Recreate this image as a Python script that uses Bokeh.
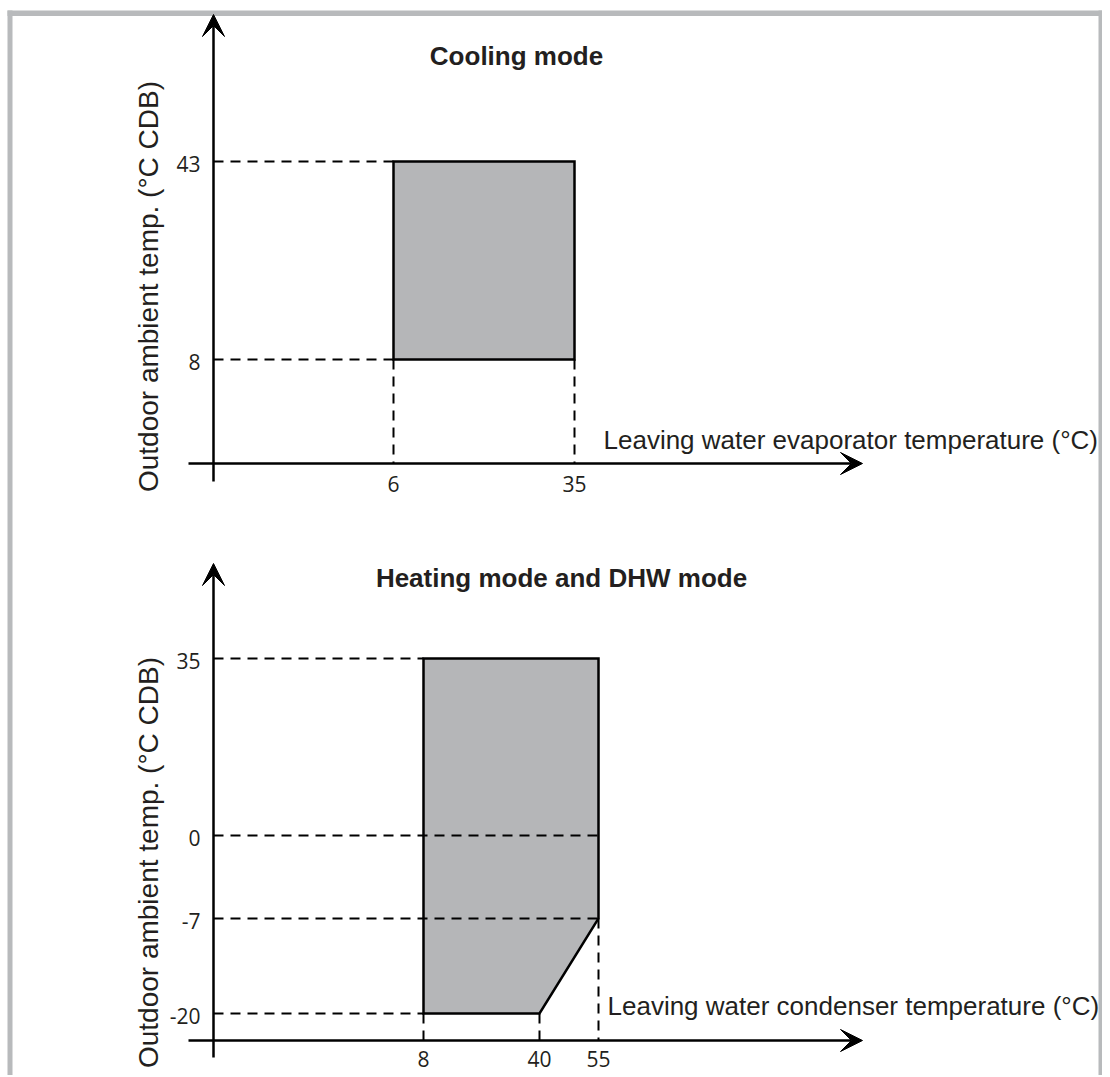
import numpy as np
from bokeh.plotting import figure
from bokeh.models import Range1d, Arrow, VeeHead
from bokeh.core.properties import value
from bokeh.embed import file_html
from bokeh.resources import INLINE

# ---------------- data ----------------
y_label = "Outdoor ambient temp. (°C CDB)"

cool_title = "Cooling mode"
cool_x_label = "Leaving water evaporator temperature (°C)"
cool_x_ticks = [6, 35]
cool_y_ticks = [8, 43]
cool_env_x = [6, 35, 35, 6]
cool_env_y = [8, 8, 43, 43]
# guides: (y value, x value reached) and (x value, y value reached)
cool_h_guides = [(43, 6), (8, 6)]
cool_v_guides = [(6, 8), (35, 8)]

heat_title = "Heating mode and DHW mode"
heat_x_label = "Leaving water condenser temperature (°C)"
heat_x_ticks = [8, 40, 55]
heat_y_ticks = [-20, -7, 0, 35]
heat_env_x = [8, 55, 55, 40, 8]
heat_env_y = [35, 35, -7, -20, -20]
heat_h_guides = [(35, 8), (0, 55), (-7, 55), (-20, 8)]
heat_v_guides = [(8, -20), (40, -20), (55, -7)]

# ---------------- schematic layout (page pixels) ----------------
W, H = 1102, 1075
TXT = "#231f20"
GRAY = "#b5b6b8"
BORDER = "#b8babc"

panels = [
    dict(title=cool_title, xlab=cool_x_label, xt=cool_x_ticks, yt=cool_y_ticks,
         ex=cool_env_x, ey=cool_env_y, hg=cool_h_guides, vg=cool_v_guides,
         ox=213, oy=463, xpos=[393, 574], ypos=[359, 161],
         ytop=14, ybot=481, xleft=188, xright=862,
         title_xy=(516, 55), xlab_xy=(603, 439), ylab_y=286, xtick_y=483),
    dict(title=heat_title, xlab=heat_x_label, xt=heat_x_ticks, yt=heat_y_ticks,
         ex=heat_env_x, ey=heat_env_y, hg=heat_h_guides, vg=heat_v_guides,
         ox=213, oy=1040, xpos=[423, 539, 598], ypos=[1013, 918, 835, 658],
         ytop=563, ybot=1057, xleft=188, xright=862,
         title_xy=(561, 577), xlab_xy=(607, 1005), ylab_y=862, xtick_y=1058),
]

p = figure(width=W, height=H, output_backend="svg", toolbar_location=None,
           x_range=Range1d(0, W), y_range=Range1d(H, 0),
           x_axis_type=None, y_axis_type=None, min_border=0)
p.outline_line_color = None
p.background_fill_color = "white"
p.border_fill_color = "white"

# frame
p.quad(left=[7], right=[W], top=[10], bottom=[15.5], fill_color=BORDER, line_color=None)
p.quad(left=[7], right=[12], top=[10], bottom=[H], fill_color=BORDER, line_color=None)
p.quad(left=[W - 4], right=[W], top=[10], bottom=[H], fill_color=BORDER, line_color=None)

for d in panels:
    xt, yt = d["xt"], d["yt"]
    xs_map = lambda v, d=d: np.interp(v, sorted(d["xt"]), [d["xpos"][d["xt"].index(t)] for t in sorted(d["xt"])])
    ys_map = lambda v, d=d: np.interp(v, sorted(d["yt"]), [d["ypos"][d["yt"].index(t)] for t in sorted(d["yt"])])

    # envelope
    p.patch(xs_map(np.array(d["ex"], float)), ys_map(np.array(d["ey"], float)),
            fill_color=GRAY, line_color="black", line_width=2.5, line_join="miter")

    # dashed guides
    hx, hy = [], []
    for yv, xv in d["hg"]:
        hx.append([d["ox"], float(xs_map(xv))])
        hy.append([float(ys_map(yv))] * 2)
    vx, vy = [], []
    for xv, yv in d["vg"]:
        vx.append([float(xs_map(xv))] * 2)
        vy.append([float(ys_map(yv)), d["oy"]])
    p.multi_line(hx + vx, hy + vy, line_color="black", line_width=2, line_dash="10 7")

    # axes with arrows
    p.add_layout(Arrow(end=VeeHead(size=22, fill_color="black", line_color="black", line_width=1),
                       x_start=d["ox"], y_start=d["ybot"], x_end=d["ox"], y_end=d["ytop"],
                       line_width=2.5, line_color="black"))
    p.add_layout(Arrow(end=VeeHead(size=22, fill_color="black", line_color="black", line_width=1),
                       x_start=d["xleft"], y_start=d["oy"], x_end=d["xright"], y_end=d["oy"],
                       line_width=2.5, line_color="black"))

    # tick labels
    p.text(x=[d["ox"] - 13] * len(yt), y=[float(ys_map(v)) + 2 for v in yt],
           text=[str(v) for v in yt], text_font=value("Open Sans"), text_font_size="21px",
           text_color=TXT, text_align="right", text_baseline="middle")
    p.text(x=[float(xs_map(v)) for v in xt], y=[d["xtick_y"]] * len(xt),
           text=[str(v) for v in xt], text_font=value("Open Sans"), text_font_size="21px",
           text_color=TXT, text_align="center", text_baseline="middle")

    # titles and axis labels
    p.text(x=[d["title_xy"][0]], y=[d["title_xy"][1]], text=[d["title"]],
           text_font=value("Liberation Sans"), text_font_style="bold", text_font_size="26px",
           text_color=TXT, text_align="center", text_baseline="middle")
    p.text(x=[d["xlab_xy"][0]], y=[d["xlab_xy"][1]], text=[d["xlab"]],
           text_font=value("Liberation Sans"), text_font_size="26px",
           text_color=TXT, text_align="left", text_baseline="middle")
    p.text(x=[148], y=[d["ylab_y"]], text=[y_label], angle=np.pi / 2,
           text_font=value("Liberation Sans"), text_font_size="28px",
           text_color=TXT, text_align="center", text_baseline="middle")

open("out.html", "w").write(file_html(p, INLINE))
